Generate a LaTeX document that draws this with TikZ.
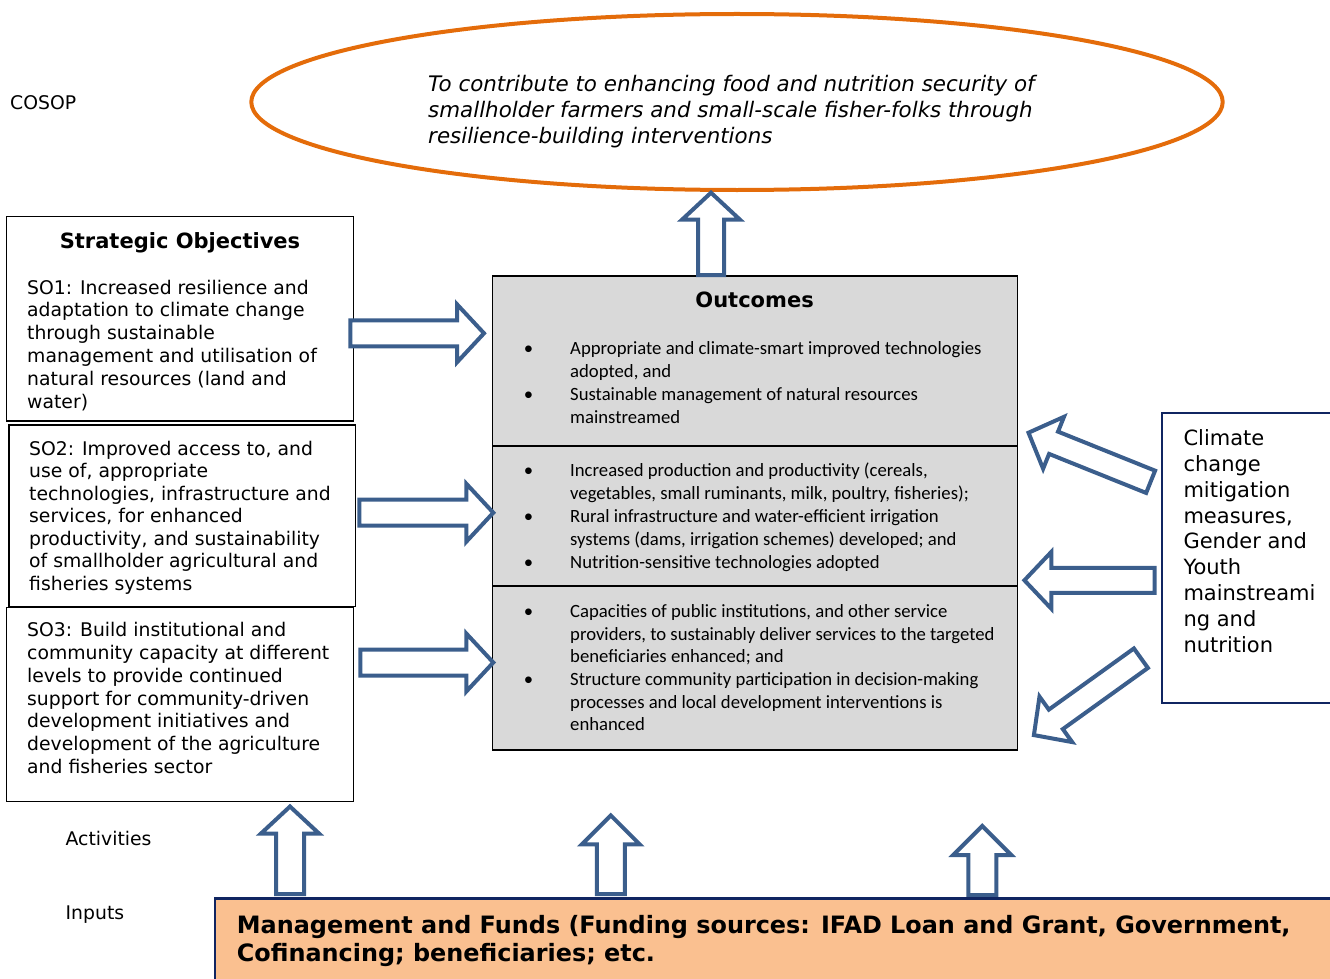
\documentclass[tikz,border=0pt]{standalone}
\usepackage{fontspec}
\setmainfont{DejaVu Sans}
\newfontfamily\calib{Carlito}
\usetikzlibrary{calc,shapes.geometric}

\definecolor{arrowblue}{RGB}{59,94,140}
\definecolor{navyb}{RGB}{16,37,97}
\definecolor{orangeline}{RGB}{228,108,10}
\definecolor{outgray}{RGB}{217,217,217}
\definecolor{peach}{RGB}{250,192,144}

\newcommand\blockarrow[5]{%
  \pgfpointdiff{\pgfpointanchor{#1}{center}}{\pgfpointanchor{#2}{center}}%
  \pgfgetlastxy{\baX}{\baY}%
  \pgfmathparse{atan2(\baY,\baX)}\let\baAng\pgfmathresult
  \pgfmathveclen{\baX}{\baY}\let\baLen\pgfmathresult
  \begin{scope}[shift={(#1)},rotate=\baAng]
   \draw[blockarr] (0,#3) -- ({\baLen-#5},#3) -- ({\baLen-#5},#4) -- (\baLen,0)
     -- ({\baLen-#5},-#4) -- ({\baLen-#5},-#3) -- (0,-#3) -- cycle;
  \end{scope}}

\tikzset{
  blockarr/.style={draw=arrowblue, line width=4pt, fill=white, line join=miter},
  sobox/.style={draw=black, line width=1.2pt, fill=white, inner sep=0pt, outer sep=0pt, anchor=north west},
  outbox/.style={draw=black, line width=1.2pt, fill=outgray, inner sep=0pt, outer sep=0pt, anchor=north west},
  sotext/.style={anchor=base west, align=left, inner sep=0pt, font=\fontsize{18.8}{22.8}\selectfont},
  outtext/.style={anchor=base west, align=left, inner sep=0pt, font=\calib\fontsize{18.7}{23}\selectfont},
  lbl/.style={anchor=base west, inner sep=0pt, font=\fontsize{18.8}{22}\selectfont},
  titletext/.style={anchor=base, inner sep=0pt, font=\bfseries\fontsize{21}{24}\selectfont},
}
\newcommand\bul{\llap{\textbullet\hspace{37pt}}}

\begin{document}
\begin{tikzpicture}[x=1pt,y=-1pt]
\useasboundingbox (0,0) rectangle (1330,979);

% goal ellipse
\node[draw=orangeline, line width=4pt, ellipse, minimum width=971.4pt, minimum height=176pt, inner sep=0pt, outer sep=0pt] (goal) at (737,102) {};
\node[anchor=base west, align=left, inner sep=0pt, font=\itshape\fontsize{21.4}{25.8}\selectfont] (goaltxt) at (428,143.3)
 {To contribute to enhancing food and nutrition security of\\
  smallholder farmers and small-scale fisher-folks through\\
  resilience-building interventions};

\node[lbl] (cosop) at (10,109.5) {COSOP};
\node[lbl] (activities) at (65.5,845) {Activities};
\node[lbl] (inputs) at (65.5,919.3) {Inputs};

% strategic objectives
\node[sobox, minimum width=346.6pt, minimum height=204.3pt] (so1) at (6.7,216.7) {};
\node[sobox, minimum width=346.3pt, minimum height=181.7pt] (so2) at (9,425) {};
\node[sobox, minimum width=346.6pt, minimum height=194.4pt] (so3) at (6.7,607.3) {};

\node[titletext] (sotitle) at (180,248) {Strategic Objectives};
\node[sotext] (so1txt) at (27,408) {SO1: Increased resilience and\\adaptation to climate change\\through sustainable\\management and utilisation of\\natural resources (land and\\water)};
\node[sotext, font=\fontsize{18.8}{22.5}\selectfont] (so2txt) at (29,590) {SO2: Improved access to, and\\use of, appropriate\\technologies, infrastructure and\\services, for enhanced\\productivity, and sustainability\\of smallholder agricultural and\\fisheries systems};
\node[sotext] (so3txt) at (27,773.5) {SO3: Build institutional and\\community capacity at different\\levels to provide continued\\support for community-driven\\development initiatives and\\development of the agriculture\\and fisheries sector};

% outcomes
\node[outbox, minimum width=524.8pt, minimum height=170pt] (out1) at (492.7,276) {};
\node[outbox, minimum width=524.8pt, minimum height=140pt] (out2) at (492.7,446) {};
\node[outbox, minimum width=524.8pt, minimum height=164pt] (out3) at (492.7,586) {};
\node[titletext] (outtitle) at (754.6,307.7) {Outcomes};
\node[outtext] (out1txt) at (570,423.3) {\bul Appropriate and climate-smart improved technologies\\adopted, and\\\bul Sustainable management of natural resources\\mainstreamed};
\node[outtext] (out2txt) at (570,568) {\bul Increased production and productivity (cereals,\\vegetables, small ruminants, milk, poultry, fisheries);\\\bul Rural infrastructure and water-efficient irrigation\\systems (dams, irrigation schemes) developed; and\\\bul Nutrition-sensitive technologies adopted};
\node[outtext, font=\calib\fontsize{18.7}{22.6}\selectfont] (out3txt) at (570,730.7) {\bul Capacities of public institutions, and other service\\providers, to sustainably deliver services to the targeted\\beneficiaries enhanced; and\\\bul Structure community participation in decision-making\\processes and local development interventions is\\enhanced};

% cross-cutting box
\node[draw=navyb, line width=2pt, fill=white, inner sep=0pt, outer sep=0pt, anchor=north west, minimum width=190pt, minimum height=290.6pt] (cross) at (1162,412.7) {};
\node[anchor=base west, align=left, inner sep=0pt, font=\fontsize{21}{25.8}\selectfont] (crosstxt) at (1183.3,652.1) {Climate\\change\\mitigation\\measures,\\Gender and\\Youth\\mainstreami\\ng and\\nutrition};

% arrow end points
\coordinate (gT) at (711,275);   \coordinate (gH) at (711,192.7);
\coordinate (s1T) at (350.3,333.3); \coordinate (s1H) at (484,333.3);
\coordinate (s2T) at (359.3,512.7); \coordinate (s2H) at (493.3,512.7);
\coordinate (s3T) at (360.3,662.5); \coordinate (s3H) at (493.3,662.5);
\coordinate (c1T) at (1150.6,481.8); \coordinate (c1H) at (1028.5,432.7);
\coordinate (c2T) at (1154.7,580.3); \coordinate (c2H) at (1024.4,580.3);
\coordinate (c3T) at (1140.9,658.2); \coordinate (c3H) at (1033.9,735.1);
\coordinate (b1T) at (290,894);   \coordinate (b1H) at (290,806.5);
\coordinate (b2T) at (610.8,894); \coordinate (b2H) at (610.8,815.4);
\coordinate (b3T) at (982.3,895); \coordinate (b3H) at (982.3,826);

\blockarrow{gT}{gH}{13}{29}{27}
\blockarrow{s1T}{s1H}{13}{29}{27}
\blockarrow{s2T}{s2H}{13}{29}{27}
\blockarrow{s3T}{s3H}{13}{29}{27}
\blockarrow{c1T}{c1H}{12}{28}{27}
\blockarrow{c2T}{c2H}{12.5}{28.5}{27}
\blockarrow{c3T}{c3H}{12}{28}{27}
\blockarrow{b1T}{b1H}{14}{29}{27}
\blockarrow{b2T}{b2H}{14}{29}{29}
\blockarrow{b3T}{b3H}{14}{29}{29}

% inputs box
\node[draw=navyb, line width=2.5pt, fill=peach, inner sep=0pt, outer sep=0pt, anchor=north west, minimum width=1130pt, minimum height=100pt] (funds) at (215,898.3) {};
\node[anchor=base west, align=left, inner sep=0pt, font=\bfseries\fontsize{23.9}{28}\selectfont] (fundstxt) at (236.7,961.3) {Management and Funds (Funding sources: IFAD Loan and Grant, Government,\\Cofinancing; beneficiaries; etc.};
\end{tikzpicture}
\end{document}
